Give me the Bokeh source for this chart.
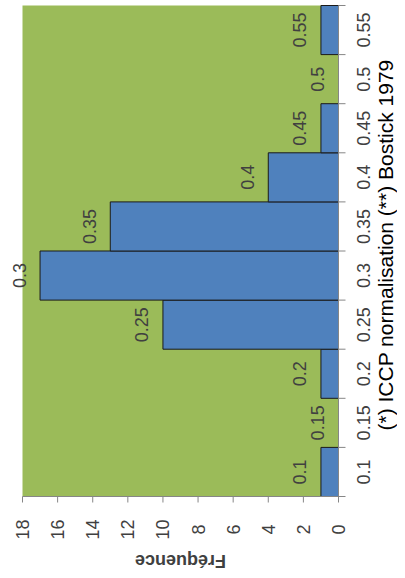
import math
from bokeh.plotting import figure
from bokeh.models import Range1d, ColumnDataSource, LabelSet, Label, BoxAnnotation
from bokeh.core.properties import value
from bokeh.embed import file_html
from bokeh.resources import INLINE

# ---- data ----
categories = ["0.1", "0.15", "0.2", "0.25", "0.3", "0.35", "0.4", "0.45", "0.5", "0.55"]
frequencies = [1, 0, 1, 10, 17, 13, 4, 1, 0, 1]
freq_ticks = [0, 2, 4, 6, 8, 10, 12, 14, 16, 18]
freq_tick_labels = ["0", "2", "4", "6", "8", "10", "12", "14", "16", "18"]
freq_max = 18
freq_title = "Fréquence"
cat_title = "(*) ICCP normalisation  (**) Bostick 1979"

# ---- layout (pixels) ----
W, H = 397, 570
PLOT_LEFT, PLOT_RIGHT, PLOT_TOP, PLOT_BOTTOM = 22, 338, 5, 496
PX_X = (PLOT_RIGHT - PLOT_LEFT) / freq_max          # px per frequency unit
n = len(categories)
PX_Y = (PLOT_BOTTOM - PLOT_TOP) / n                  # px per category band

x_start = freq_max + PLOT_LEFT / PX_X
x_end = -(W - PLOT_RIGHT) / PX_X
y_start = -(H - PLOT_BOTTOM) / PX_Y
y_end = n + PLOT_TOP / PX_Y

centers = [i + 0.5 for i in range(n)]
edges = [float(i) for i in range(n + 1)]

bars = ColumnDataSource(dict(cat=categories, freq=frequencies, y=centers))
fticks = ColumnDataSource(dict(x=freq_ticks, y=[0] * len(freq_ticks), lab=freq_tick_labels))

GREEN = "#9BBB59"
BLUE = "#4F81BD"
GRAY = "#868686"
TXT = "#404040"
FONT = "Liberation Sans"

p = figure(width=W, height=H, output_backend="svg", toolbar_location=None,
           x_range=Range1d(x_start, x_end), y_range=Range1d(y_start, y_end),
           x_axis_location=None, y_axis_location=None, min_border=0)
p.outline_line_color = None
p.background_fill_color = "white"
p.border_fill_color = "white"
for g in p.grid:
    g.visible = False

# plot area
p.add_layout(BoxAnnotation(left=0, right=freq_max, bottom=0, top=n,
                           fill_color=GREEN, fill_alpha=1, line_color=None,
                           level="underlay"))

# bars
p.hbar(y="y", height=1, left=0, right="freq", source=bars,
       fill_color=BLUE, line_color="#1a1a1a", line_width=1)

# frequency axis (bottom, reversed)
p.segment(x0=[0], y0=[0], x1=[freq_max], y1=[0], line_color=GRAY, line_width=1)
p.segment(x0="x", y0="y", x1="x", y1=-6 / PX_Y, source=fticks, line_color=GRAY, line_width=1)
p.add_layout(LabelSet(x="x", y="y", text="lab", source=fticks, y_offset=-33,
                      angle=math.pi / 2, text_align="center", text_baseline="middle",
                      text_font=value(FONT), text_font_size="18px", text_color=TXT))
p.add_layout(Label(x=freq_max / 2, y=0, y_offset=-64, text=freq_title, angle=math.pi,
                   text_align="center", text_baseline="middle", text_font=FONT,
                   text_font_size="18px", text_font_style="bold", text_color=TXT))

# category axis (right)
p.segment(x0=[0], y0=[0], x1=[0], y1=[n], line_color=GRAY, line_width=1)
p.segment(x0=0, y0=edges, x1=-7 / PX_X, y1=edges, line_color=GRAY, line_width=1)
p.add_layout(LabelSet(x=0, y="y", text="cat", source=bars, x_offset=25,
                      angle=math.pi / 2, text_align="center", text_baseline="middle",
                      text_font=value(FONT), text_font_size="18px", text_color=TXT))
p.add_layout(Label(x=0, y=(PLOT_BOTTOM - 430) / PX_Y, x_offset=47, text=cat_title,
                   angle=math.pi / 2, text_align="left", text_baseline="alphabetic",
                   text_font=FONT, text_font_size="21px", text_color="#000000"))

# data labels (category shown at bar end)
p.add_layout(LabelSet(x="freq", y="y", text="cat", source=bars, x_offset=-21,
                      angle=math.pi / 2, text_align="center", text_baseline="middle",
                      text_font=value(FONT), text_font_size="18px", text_color=TXT))

open("out.html", "w").write(file_html(p, INLINE))
